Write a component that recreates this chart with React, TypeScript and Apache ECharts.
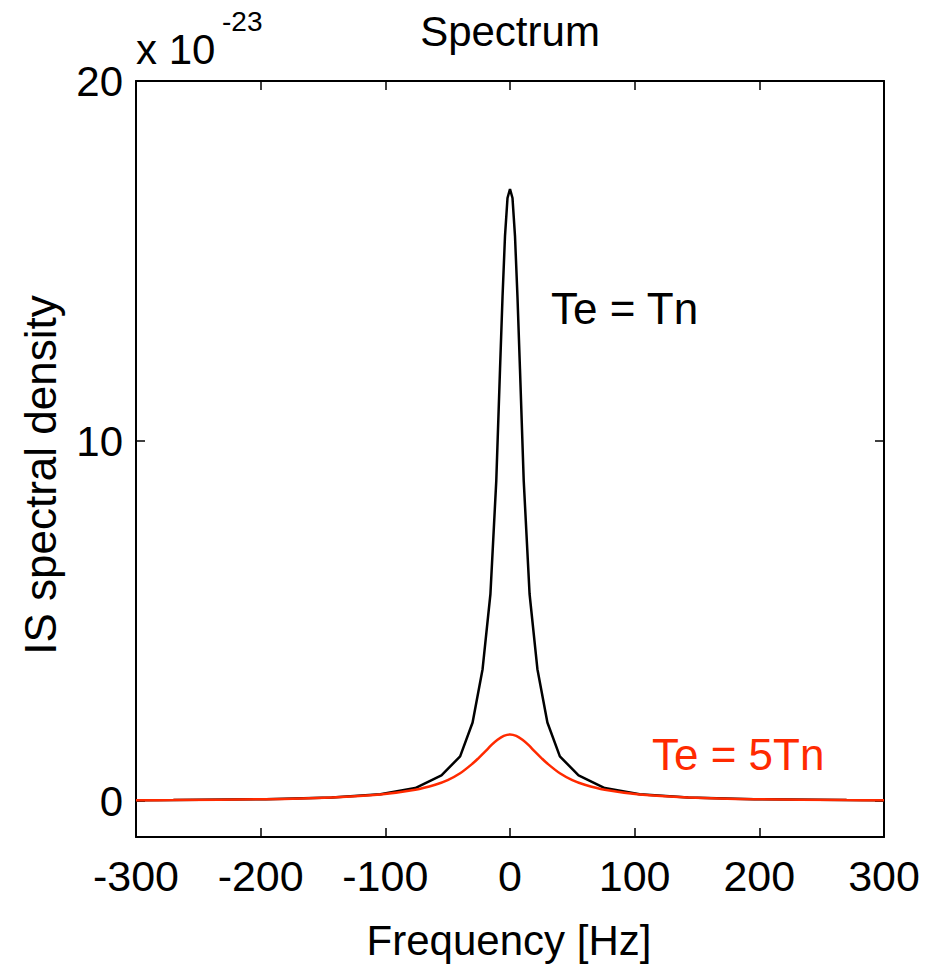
import React, { useEffect, useRef } from "react";
import * as echarts from "echarts";

// Frequencies (Hz), positive side; the spectra are symmetric around 0
const freqsTeTn = [0, 2, 4, 6, 8, 11, 15.7, 22, 30, 40, 55, 76, 104, 143, 196, 270, 300];
const valsTeTn = [17.0, 16.75, 15.7, 14.0, 12.0, 8.9, 5.75, 3.66, 2.18, 1.24, 0.71, 0.36, 0.19, 0.1, 0.05, 0.025, 0.02];

const freqsTe5Tn = [0, 5, 10, 15, 20, 25, 30, 40, 50, 60, 76, 104, 143, 196, 270, 300];
const valsTe5Tn = [1.85, 1.81, 1.7, 1.55, 1.37, 1.2, 1.04, 0.77, 0.58, 0.45, 0.31, 0.18, 0.1, 0.05, 0.025, 0.02];

const xTicks = [-300, -200, -100, 0, 100, 200, 300];
const yTicks = [0, 10, 20];

function mirror(f: number[], v: number[]): [number, number][] {
  const left: [number, number][] = [];
  for (let i = f.length - 1; i > 0; i--) left.push([-f[i], v[i]]);
  const right: [number, number][] = f.map((x, i) => [x, v[i]]);
  return [...left, ...right];
}

const FONT = "Liberation Sans, Arial, Helvetica, sans-serif";
const RED = "#ff2a00";

export default function App() {
  const ref = useRef<HTMLDivElement>(null);
  useEffect(() => {
    if (!ref.current) return;
    const chart = echarts.init(ref.current, undefined, { renderer: "svg" });
    const axisLine = { show: true, onZero: false, lineStyle: { color: "#000", width: 2 } };
    const tick = { show: true, inside: true, length: 9, lineStyle: { color: "#000", width: 1.5 } };
    chart.setOption({
      animation: false,
      backgroundColor: "#fff",
      grid: { left: 136, right: 41, top: 81, bottom: 128, containLabel: false },
      xAxis: [
        {
          type: "value",
          min: xTicks[0],
          max: xTicks[xTicks.length - 1],
          interval: 100,
          position: "bottom",
          axisLine,
          axisTick: tick,
          splitLine: { show: false },
          axisLabel: { color: "#000", fontSize: 43, fontFamily: FONT, margin: 17 },
        },
        {
          type: "value",
          min: xTicks[0],
          max: xTicks[xTicks.length - 1],
          interval: 100,
          position: "top",
          axisLine,
          axisTick: tick,
          splitLine: { show: false },
          axisLabel: { show: false },
        },
      ],
      yAxis: [
        {
          type: "value",
          min: -1,
          max: 20,
          position: "left",
          axisLine,
          axisTick: { ...tick, customValues: yTicks },
          splitLine: { show: false },
          axisLabel: { color: "#000", fontSize: 42, fontFamily: FONT, margin: 13, customValues: yTicks },
        },
        {
          type: "value",
          min: -1,
          max: 20,
          position: "right",
          axisLine,
          axisTick: { ...tick, customValues: yTicks },
          splitLine: { show: false },
          axisLabel: { show: false, customValues: yTicks },
        },
      ],
      series: [
        {
          name: "Te = Tn",
          type: "line",
          xAxisIndex: 0,
          yAxisIndex: 0,
          data: mirror(freqsTeTn, valsTeTn),
          showSymbol: false,
          lineStyle: { color: "#000", width: 2.5 },
          z: 3,
        },
        {
          name: "Te = 5Tn",
          type: "line",
          xAxisIndex: 0,
          yAxisIndex: 0,
          data: mirror(freqsTe5Tn, valsTe5Tn),
          showSymbol: false,
          smooth: 0.3,
          lineStyle: { color: RED, width: 2.5 },
          z: 4,
        },
      ],
      graphic: [
        {
          type: "text",
          x: 510,
          y: 31,
          style: { text: "Spectrum", fill: "#000", font: `42px ${FONT}`, align: "center", verticalAlign: "middle" },
        },
        {
          type: "text",
          x: 136,
          y: 49,
          style: { text: "x 10", fill: "#000", font: `42px ${FONT}`, align: "left", verticalAlign: "middle" },
        },
        {
          type: "text",
          x: 222,
          y: 21,
          style: { text: "-23", fill: "#000", font: `28px ${FONT}`, align: "left", verticalAlign: "middle" },
        },
        {
          type: "text",
          x: 551,
          y: 308,
          style: { text: "Te = Tn", fill: "#000", font: `44px ${FONT}`, align: "left", verticalAlign: "middle" },
        },
        {
          type: "text",
          x: 652,
          y: 754,
          style: { text: "Te = 5Tn", fill: RED, font: `44px ${FONT}`, align: "left", verticalAlign: "middle" },
        },
        {
          type: "text",
          x: 509,
          y: 940,
          style: { text: "Frequency [Hz]", fill: "#000", font: `42px ${FONT}`, align: "center", verticalAlign: "middle" },
        },
        {
          type: "text",
          x: 40,
          y: 475,
          rotation: Math.PI / 2,
          style: { text: "IS spectral density", fill: "#000", font: `44px ${FONT}`, align: "center", verticalAlign: "middle" },
        },
      ],
    });
    return () => chart.dispose();
  }, []);
  return (
    <div
      ref={ref}
      style={{ position: "fixed", left: 0, top: 0, width: 925, height: 965, background: "#fff" }}
    />
  );
}
